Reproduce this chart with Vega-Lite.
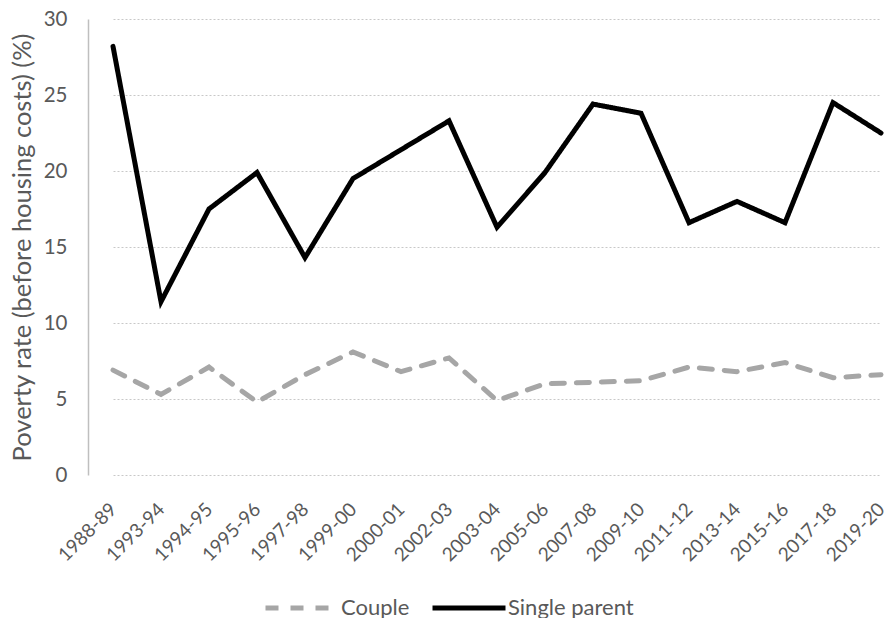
{
  "$schema": "https://vega.github.io/schema/vega-lite/v6.json",
  "width": 803,
  "height": 456,
  "autosize": {"type": "none"},
  "padding": {"left": 88, "top": 19, "right": 0, "bottom": 143},
  "background": "white",
  "config": {
    "font": "Lato",
    "view": {"stroke": null},
    "axis": {"labelColor": "#595959", "titleColor": "#595959", "labelFont": "Lato", "titleFont": "Lato", "titleFontWeight": "normal"},
    "legend": {"labelFont": "Lato"}
  },
  "data": {
    "values": [
      {"year": "1988-89", "series": "Single parent", "value": 28.2},
      {"year": "1993-94", "series": "Single parent", "value": 11.4},
      {"year": "1994-95", "series": "Single parent", "value": 17.5},
      {"year": "1995-96", "series": "Single parent", "value": 19.9},
      {"year": "1997-98", "series": "Single parent", "value": 14.3},
      {"year": "1999-00", "series": "Single parent", "value": 19.5},
      {"year": "2000-01", "series": "Single parent", "value": 21.4},
      {"year": "2002-03", "series": "Single parent", "value": 23.3},
      {"year": "2003-04", "series": "Single parent", "value": 16.3},
      {"year": "2005-06", "series": "Single parent", "value": 19.9},
      {"year": "2007-08", "series": "Single parent", "value": 24.4},
      {"year": "2009-10", "series": "Single parent", "value": 23.8},
      {"year": "2011-12", "series": "Single parent", "value": 16.6},
      {"year": "2013-14", "series": "Single parent", "value": 18.0},
      {"year": "2015-16", "series": "Single parent", "value": 16.6},
      {"year": "2017-18", "series": "Single parent", "value": 24.5},
      {"year": "2019-20", "series": "Single parent", "value": 22.5},
      {"year": "1988-89", "series": "Couple", "value": 6.9},
      {"year": "1993-94", "series": "Couple", "value": 5.3},
      {"year": "1994-95", "series": "Couple", "value": 7.1},
      {"year": "1995-96", "series": "Couple", "value": 4.8},
      {"year": "1997-98", "series": "Couple", "value": 6.6},
      {"year": "1999-00", "series": "Couple", "value": 8.1},
      {"year": "2000-01", "series": "Couple", "value": 6.8},
      {"year": "2002-03", "series": "Couple", "value": 7.7},
      {"year": "2003-04", "series": "Couple", "value": 4.9},
      {"year": "2005-06", "series": "Couple", "value": 6.0},
      {"year": "2007-08", "series": "Couple", "value": 6.1},
      {"year": "2009-10", "series": "Couple", "value": 6.2},
      {"year": "2011-12", "series": "Couple", "value": 7.1},
      {"year": "2013-14", "series": "Couple", "value": 6.8},
      {"year": "2015-16", "series": "Couple", "value": 7.4},
      {"year": "2017-18", "series": "Couple", "value": 6.4},
      {"year": "2019-20", "series": "Couple", "value": 6.6}
    ]
  },
  "mark": {"type": "line", "strokeWidth": 5, "strokeCap": "round", "strokeJoin": "miter"},
  "encoding": {
    "x": {
      "field": "year", "type": "ordinal", "sort": null,
      "scale": {"type": "point", "range": [25, 793], "padding": 0},
      "axis": {"title": null, "domain": false, "ticks": false, "grid": false, "labelAngle": -45, "labelAlign": "right", "labelBaseline": "middle", "labelFontSize": 19, "labelPadding": 31}
    },
    "y": {
      "field": "value", "type": "quantitative",
      "scale": {"domain": [0, 30], "nice": false, "zero": true},
      "axis": {"title": "Poverty rate (before housing costs) (%)", "values": [0, 5, 10, 15, 20, 25, 30], "grid": true, "gridColor": "#c8c8c8", "gridDash": [2, 2], "gridWidth": 1, "domain": true, "domainColor": "#bfbfbf", "domainWidth": 1.5, "ticks": false, "labelFontSize": 20.5, "labelPadding": 21, "titleFontSize": 25.5, "titlePadding": 8}
    },
    "color": {
      "field": "series", "type": "nominal",
      "scale": {"domain": ["Couple", "Single parent"], "range": ["#a6a6a6", "#000000"]},
      "legend": {"title": null, "orient": "none", "legendX": 175, "legendY": 550, "direction": "horizontal", "symbolType": "stroke", "symbolSize": 5329, "symbolStrokeWidth": 5, "labelFontSize": 22, "labelColor": "#595959", "columnPadding": 12, "labelOffset": 0}
    },
    "strokeDash": {
      "field": "series", "type": "nominal",
      "scale": {"domain": ["Couple", "Single parent"], "range": [[13, 12], [1, 0]]},
      "legend": null
    }
  }
}
